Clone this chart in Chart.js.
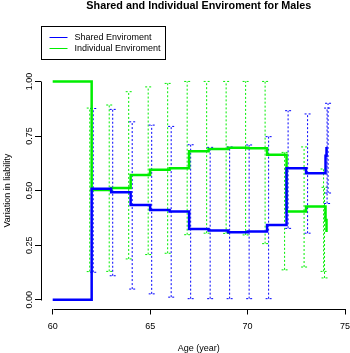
<!DOCTYPE html>
<html><head><meta charset="utf-8">
<style>html,body{margin:0;padding:0;overflow:hidden;background:#fff}canvas{display:block}</style>
<script src="https://cdn.jsdelivr.net/npm/chart.js@4.4.1/dist/chart.umd.min.js"></script>
</head><body>
<canvas id="c" width="365" height="353" style="width:365px;height:353px"></canvas>
<script>
// ---- data ----
const ages       = [60, 62, 63, 64, 65, 66, 67, 68, 69, 70, 71, 72, 73, 74, 74.05];
const shared     = [0.000, 0.508, 0.492, 0.434, 0.411, 0.404, 0.324, 0.317, 0.309, 0.313, 0.343, 0.602, 0.579, 0.660, 0.700];
const sharedLow  = [null, 0.126, 0.110, 0.049, 0.027, 0.012, 0.005, 0.005, 0.005, 0.005, 0.005, 0.327, 0.305, 0.441, 0.489];
const sharedHigh = [null, 0.876, 0.872, 0.815, 0.800, 0.794, 0.710, 0.698, 0.700, 0.709, 0.747, 0.866, 0.851, 0.878, 0.900];
const indiv      = [1.000, 0.503, 0.512, 0.572, 0.595, 0.602, 0.680, 0.691, 0.696, 0.694, 0.664, 0.404, 0.427, 0.365, 0.310];
const indivLow   = [null, 0.129, 0.130, 0.187, 0.207, 0.213, 0.298, 0.305, 0.304, 0.297, 0.257, 0.137, 0.150, 0.130, 0.100];
const indivHigh  = [null, 0.878, 0.892, 0.953, 0.975, 0.991, 1.000, 1.000, 1.000, 1.000, 1.000, 0.675, 0.700, 0.599, 0.515];
const xTicks = [60, 65, 70, 75];
const yTicks = [0, 0.25, 0.5, 0.75, 1];
const seriesNames = ['Shared Enviroment', 'Individual Enviroment'];
const chartTitle = 'Shared and Individual Enviroment for Males';
const xTitle = 'Age (year)';
const yTitle = 'Variation in liability';

const BLUE = '#0000ff', GREEN = '#00ee00';
const FONT = '"Liberation Sans", Arimo, Arial, Helvetica, sans-serif';
Chart.defaults.font.family = FONT;
Chart.defaults.font.size = 9;
Chart.defaults.color = '#000';

const errorBars = {
  id: 'errorBars',
  beforeDatasetsDraw(chart, args, opts) {
    const {ctx, scales: {x, y}} = chart;
    ctx.save();
    ctx.lineWidth = 1;
    ctx.setLineDash([2, 2]);
    opts.series.forEach(s => {
      ctx.strokeStyle = s.color;
      ages.forEach((a, i) => {
        const lo = s.low[i], hi = s.high[i];
        if (lo == null || hi == null) return;
        const px = x.getPixelForValue(a + s.offset);
        const pl = y.getPixelForValue(lo), ph = y.getPixelForValue(hi);
        ctx.beginPath();
        ctx.moveTo(px, pl); ctx.lineTo(px, ph);
        ctx.moveTo(px - opts.cap, pl); ctx.lineTo(px + opts.cap, pl);
        ctx.moveTo(px - opts.cap, ph); ctx.lineTo(px + opts.cap, ph);
        ctx.stroke();
      });
    });
    ctx.restore();
  }
};

const decor = {
  id: 'decor',
  afterDraw(chart) {
    const {ctx, chartArea: ca, scales: {x, y}} = chart;
    ctx.save();
    ctx.strokeStyle = '#000';
    ctx.lineWidth = 1;
    ctx.setLineDash([]);
    // axis lines spanning the tick range (R style)
    const ax = Math.round(ca.left) + 0.5;
    ctx.beginPath();
    ctx.moveTo(ax, Math.round(y.getPixelForValue(yTicks[0])) + 0.5);
    ctx.lineTo(ax, Math.round(y.getPixelForValue(yTicks[yTicks.length - 1])) + 0.5);
    const ay = Math.round(ca.bottom) + 0.5;
    ctx.moveTo(Math.round(x.getPixelForValue(xTicks[0])) + 0.5, ay);
    ctx.lineTo(Math.round(x.getPixelForValue(xTicks[xTicks.length - 1])) + 0.5, ay);
    ctx.stroke();

    // title
    ctx.fillStyle = '#000';
    ctx.font = 'bold 10.8px ' + FONT;
    ctx.textAlign = 'center';
    ctx.textBaseline = 'alphabetic';
    ctx.fillText(chartTitle, (ca.left + ca.right) / 2, 8.6);

    // legend box
    const lx = Math.round(ca.left) + 0.5;
    ctx.strokeRect(lx, 26.5, 124, 33);
    ctx.font = '9px ' + FONT;
    ctx.textAlign = 'left';
    ctx.textBaseline = 'middle';
    chart.data.datasets.forEach((ds, i) => {
      const yy = 37.5 + i * 11;
      ctx.strokeStyle = ds.borderColor;
      ctx.beginPath();
      ctx.moveTo(lx + 8, yy); ctx.lineTo(lx + 26, yy);
      ctx.stroke();
      ctx.fillText(ds.label, lx + 33, yy + 0.3);
    });
    ctx.restore();
  }
};

new Chart(document.getElementById('c'), {
  type: 'line',
  data: {
    datasets: [
      { label: seriesNames[0], data: ages.map((a, i) => ({x: a, y: shared[i]})),
        borderColor: BLUE, borderWidth: 2.5, stepped: 'before', pointRadius: 0, fill: false },
      { label: seriesNames[1], data: ages.map((a, i) => ({x: a, y: indiv[i]})),
        borderColor: GREEN, borderWidth: 2.5, stepped: 'before', pointRadius: 0, fill: false }
    ]
  },
  options: {
    responsive: false, animation: false, devicePixelRatio: 1,
    layout: { padding: { top: 72.7, left: 0, right: 8.3, bottom: 0 } },
    plugins: {
      legend: { display: false }, title: { display: false }, tooltip: { enabled: false },
      errorBars: {
        cap: 3,
        series: [
          { color: GREEN, low: indivLow, high: indivHigh, offset: -0.1 },
          { color: BLUE, low: sharedLow, high: sharedHigh, offset: 0.08 }
        ]
      }
    },
    scales: {
      x: {
        type: 'linear', min: 59.4, max: 75.6,
        afterBuildTicks: s => { s.ticks = xTicks.map(v => ({value: v})); },
        afterFit: s => { s.height = 44.5; },
        grid: { drawOnChartArea: false, drawTicks: true, tickLength: 6, color: '#000' },
        border: { display: false },
        ticks: { padding: 7, maxRotation: 0, autoSkip: false, color: '#000', callback: v => String(v) },
        title: { display: true, text: xTitle, color: '#000', font: { size: 9, lineHeight: 1 }, padding: { top: 0, bottom: 0 } }
      },
      y: {
        type: 'linear', min: -0.04, max: 1.04,
        afterBuildTicks: s => { s.ticks = yTicks.map(v => ({value: v})); },
        afterFit: s => { s.width = 41; },
        grid: { drawOnChartArea: false, drawTicks: true, tickLength: 6, color: '#000' },
        border: { display: false },
        ticks: { minRotation: 90, maxRotation: 90, crossAlign: 'center', padding: -3.3, autoSkip: false, color: '#000',
                 callback: v => Number(v).toFixed(2) },
        title: { display: true, text: yTitle, color: '#000', font: { size: 9, lineHeight: 1.2 }, padding: { top: 2.6, bottom: 0 } }
      }
    }
  },
  plugins: [errorBars, decor]
});
</script>
</body></html>
